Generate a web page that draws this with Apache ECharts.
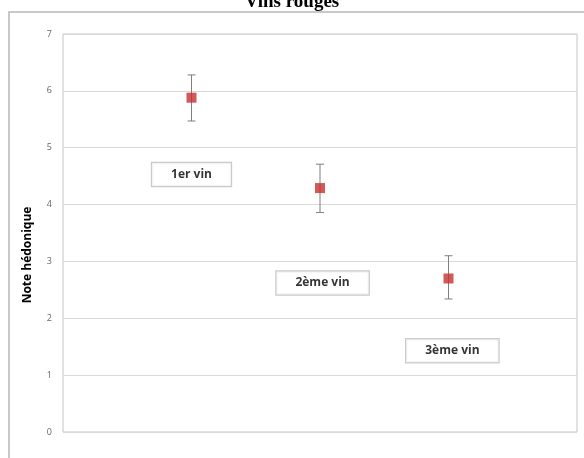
<!DOCTYPE html>
<html>
<head>
<meta charset="utf-8">
<script src="https://cdn.jsdelivr.net/npm/echarts@6/dist/echarts.min.js"></script>
<style>html,body{margin:0;padding:0;background:#fff}#c{width:584px;height:458px}</style>
</head>
<body>
<div id="c"></div>
<script>
// Data
var wines = ['1er vin', '2ème vin', '3ème vin'];
var winePos = [1, 2, 3];
var means = [5.88, 4.29, 2.70];
var lowers = [5.47, 3.86, 2.34];
var uppers = [6.28, 4.71, 3.10];
var labelX = [1, 2.02, 3.03];
var labelY = [4.53, 2.62, 1.43];
var yTicks = [0, 1, 2, 3, 4, 5, 6, 7];

var chart = echarts.init(document.getElementById('c'), null, {renderer: 'canvas'});

var errData = winePos.map(function (x, i) { return [x, lowers[i], uppers[i]]; });
var ptData = winePos.map(function (x, i) { return [x, means[i]]; });
var lblData = wines.map(function (w, i) { return {value: [labelX[i], labelY[i]], name: w}; });

chart.setOption({
  animation: false,
  title: {
    text: 'Vins rouges',
    left: 'center',
    top: -12,
    textStyle: {fontFamily: 'Liberation Serif', fontWeight: 'bold', fontSize: 19, color: '#000'}
  },
  graphic: [{
    type: 'rect', silent: true, z: -10,
    shape: {x: 9, y: 12, width: 620, height: 500},
    style: {fill: 'none', stroke: '#b8b8b8', lineWidth: 1.5}
  }],
  grid: {left: 63, right: 7, top: 34, bottom: 26, show: true, borderColor: '#c4c4c4', borderWidth: 1},
  xAxis: {
    type: 'value', min: 0, max: 4,
    axisLine: {show: false}, axisTick: {show: false}, axisLabel: {show: false}, splitLine: {show: false}
  },
  yAxis: {
    type: 'value', min: 0, max: 7, interval: 1,
    name: 'Note hédonique', nameLocation: 'middle', nameGap: 29, nameRotate: 90,
    nameTextStyle: {fontFamily: 'Open Sans', fontWeight: 'bold', fontSize: 12, color: '#000', padding: [0, 44, 0, 0]},
    axisLine: {show: false}, axisTick: {show: false},
    axisLabel: {margin: 11, fontFamily: 'Open Sans', fontSize: 9, color: '#666',
      formatter: function (v) { return yTicks.indexOf(v) >= 0 ? String(v) : ''; }},
    splitLine: {lineStyle: {color: '#d9d9d9', width: 1}}
  },
  series: [{
    type: 'custom',
    data: errData,
    z: 2,
    renderItem: function (params, api) {
      var x = api.value(0);
      var lo = api.coord([x, api.value(1)]);
      var hi = api.coord([x, api.value(2)]);
      var hw = 4;
      var st = {stroke: '#7f7f7f', lineWidth: 1};
      return {type: 'group', children: [
        {type: 'line', shape: {x1: lo[0], y1: lo[1], x2: hi[0], y2: hi[1]}, style: st},
        {type: 'line', shape: {x1: lo[0] - hw, y1: lo[1], x2: lo[0] + hw, y2: lo[1]}, style: st},
        {type: 'line', shape: {x1: hi[0] - hw, y1: hi[1], x2: hi[0] + hw, y2: hi[1]}, style: st}
      ]};
    }
  }, {
    type: 'scatter',
    data: ptData,
    z: 3,
    symbol: 'rect',
    symbolSize: 10,
    itemStyle: {color: '#c62f30'}
  }, {
    type: 'scatter',
    data: lblData,
    z: 4,
    symbolSize: 0,
    label: {
      show: true, position: 'inside',
      formatter: function (p) { return p.name; },
      fontFamily: 'Open Sans', fontWeight: 'bold', fontSize: 12, color: '#000',
      backgroundColor: '#fff', borderColor: '#bdbdbd', borderWidth: 1.2,
      padding: [6, 19, 5, 19]
    }
  }]
});
</script>
</body>
</html>
